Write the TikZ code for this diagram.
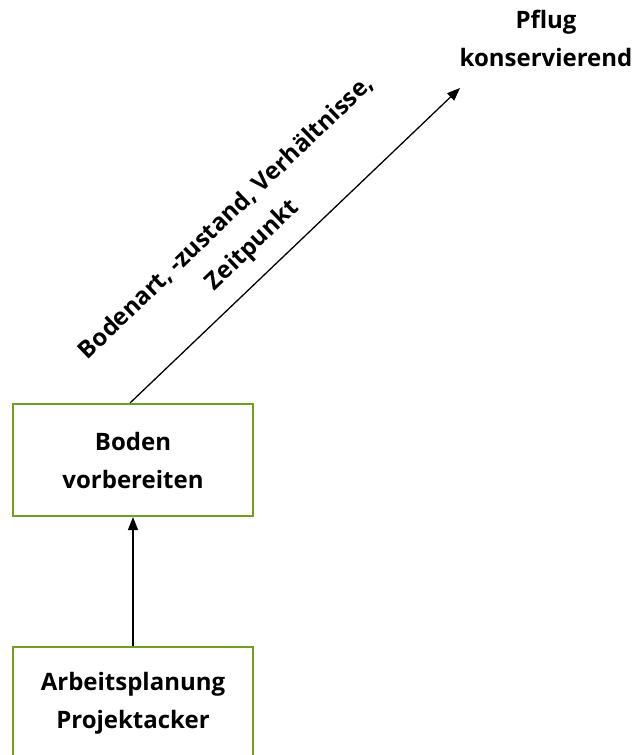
\documentclass[tikz,border=0pt]{standalone}
\usepackage{fontspec}
\setmainfont{Open Sans}
\usetikzlibrary{arrows.meta}
\definecolor{boxgreen}{RGB}{112,160,32}
\tikzset{
  procbox/.style={draw=boxgreen, line width=2pt, minimum width=240pt, minimum height=112pt, align=center, font=\fontsize{24}{38}\selectfont\bfseries, inner sep=0pt},
  lbl/.style={align=center, font=\fontsize{24}{38}\selectfont\bfseries, inner sep=0pt},
  conn/.style={line width=1.3pt, -{Triangle[length=13pt,width=10pt]}}
}
\begin{document}
\begin{tikzpicture}[x=1pt,y=-1pt]
\useasboundingbox (0,0) rectangle (643,755);
\clip (0,0) rectangle (643,755);
\node[procbox] (b1) at (133,460) {Boden\\vorbereiten};
\node[procbox] (b2) at (133,703) {Arbeitsplanung\\Projektacker};
\node[lbl] (pf) at (546,38) {Pflug\\konservierend};
\coordinate (tip) at (460,88);
\draw[conn] ([xshift=-3pt]b1.north) -- (tip);
\draw[conn] (b2.north) -- (b1.south);
\node[lbl, rotate=43.8] (cond) at (240,232) {Bodenart, -zustand, Verhältnisse,\\Zeitpunkt};
\end{tikzpicture}
\end{document}
